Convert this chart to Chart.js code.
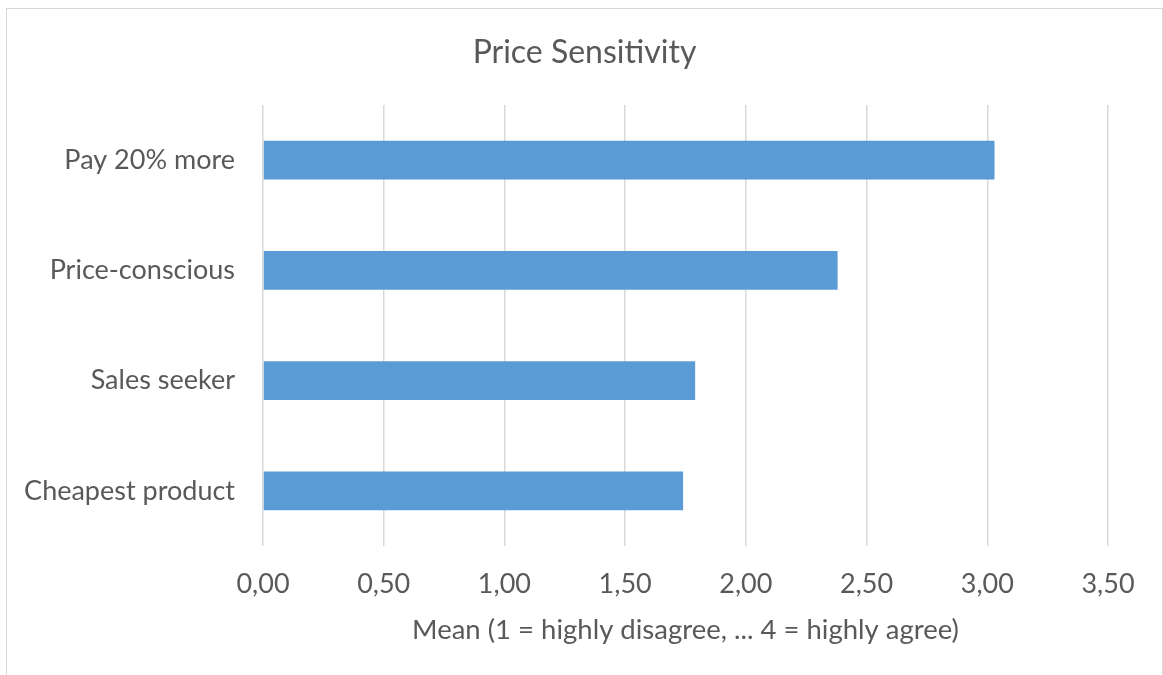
<!DOCTYPE html>
<html>
<head>
<meta charset="utf-8">
<script src="https://cdn.jsdelivr.net/npm/chart.js@4"></script>
<style>
  html, body { margin: 0; padding: 0; background: #ffffff; overflow: hidden; }
  #frame {
    position: absolute; left: 6px; top: 8px;
    width: 1155px; height: 670px;
    border: 1px solid #d9d9d9; border-bottom: none;
    background: #ffffff;
  }
  #chart { display: block; }
</style>
</head>
<body>
<div id="frame"><canvas id="chart" width="1155" height="666"></canvas></div>
<script>
// Survey items and their mean scores
const categories = ['Pay 20% more', 'Price-conscious', 'Sales seeker', 'Cheapest product'];
const meanScores = [3.03, 2.38, 1.79, 1.74];
const tickLabels = ['0,00', '0,50', '1,00', '1,50', '2,00', '2,50', '3,00', '3,50'];

const textColor = '#595959';
const fontFamily = 'Lato, "Open Sans", sans-serif';

new Chart(document.getElementById('chart'), {
  type: 'bar',
  data: {
    labels: categories,
    datasets: [{
      data: meanScores,
      backgroundColor: '#5b9bd5',
      borderWidth: 0,
      barPercentage: 0.35,
      categoryPercentage: 1.0
    }]
  },
  options: {
    indexAxis: 'y',
    responsive: false,
    animation: false,
    devicePixelRatio: 1,
    layout: { padding: 0 },
    plugins: {
      legend: { display: false },
      tooltip: { enabled: false },
      title: {
        display: true,
        text: 'Price Sensitivity',
        color: textColor,
        font: { family: fontFamily, size: 32, weight: 'normal' },
        padding: { top: 24, bottom: 33.6 }
      }
    },
    scales: {
      x: {
        min: 0,
        max: 3.5,
        grid: { color: '#d9d9d9', lineWidth: 1.5, drawTicks: false },
        border: { display: false },
        ticks: {
          stepSize: 0.5,
          padding: 22,
          color: textColor,
          font: { family: fontFamily, size: 27 },
          callback: (v, i) => tickLabels[i]
        },
        title: {
          display: true,
          text: 'Mean (1 = highly disagree, ... 4 = highly agree)',
          color: textColor,
          font: { family: fontFamily, size: 27.5 },
          padding: { top: 0, bottom: 28 }
        },
        afterFit: (scale) => { scale.height = 129; }
      },
      y: {
        grid: { display: false, drawTicks: false },
        border: { display: false },
        ticks: {
          padding: 28,
          color: textColor,
          font: { family: fontFamily, size: 27 }
        },
        afterFit: (scale) => { scale.width = 256; }
      },
      // empty right-hand margin so the plot stops short of the frame
      yRight: {
        type: 'category',
        position: 'right',
        grid: { display: false, drawTicks: false },
        border: { display: false },
        ticks: { display: false },
        afterFit: (scale) => { scale.width = 54; }
      }
    }
  }
});
</script>
</body>
</html>
